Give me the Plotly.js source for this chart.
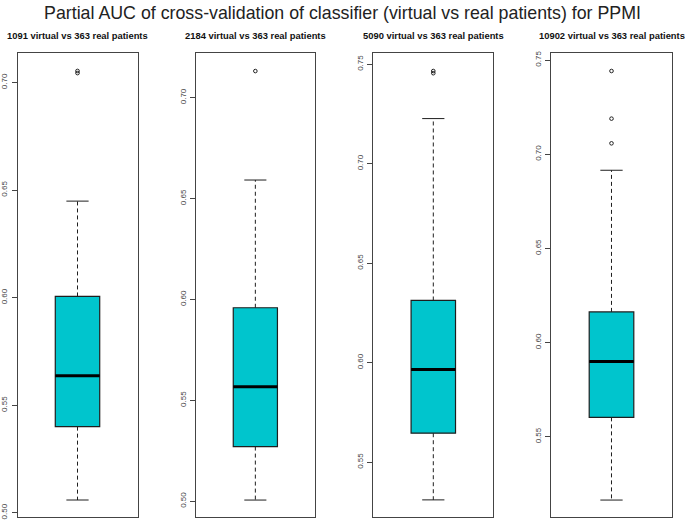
<!DOCTYPE html>
<html>
<head>
<meta charset="utf-8">
<script src="https://cdn.plot.ly/plotly-3.0.1.min.js"></script>
<style>html,body{margin:0;padding:0;background:#fff;}#chart{width:685px;height:522px;}</style>
</head>
<body>
<div id="chart"></div>
<script>
// ---- data ----
const panelTitles = [
  "1091 virtual vs 363 real patients",
  "2184 virtual vs 363 real patients",
  "5090 virtual vs 363 real patients",
  "10902 virtual vs 363 real patients"
];
const q1Vals      = [0.5401, 0.5271, 0.5646, 0.5603];
const medianVals  = [0.5637, 0.5568, 0.5966, 0.5899];
const q3Vals      = [0.6006, 0.5959, 0.6313, 0.6163];
const lowerWhisk  = [0.5060, 0.5006, 0.5311, 0.5164];
const upperWhisk  = [0.6449, 0.6592, 0.7227, 0.6915];
const outlierVals = [
  [0.7044, 0.7054],
  [0.7132],
  [0.7455, 0.7466],
  [0.7058, 0.7189, 0.7442]
];
const tickVals = [
  [0.50, 0.55, 0.60, 0.65, 0.70],
  [0.50, 0.55, 0.60, 0.65, 0.70],
  [0.55, 0.60, 0.65, 0.70, 0.75],
  [0.55, 0.60, 0.65, 0.70, 0.75]
];
const tickText = tickVals.map(a => a.map(v => v.toFixed(2)));
const mainTitle = "Partial AUC of cross-validation of classifier (virtual vs real patients) for PPMI";

// ---- layout config ----
const W = 685, H = 522;
const panelPx = [[17.5, 137.5], [195.7, 315.0], [373.3, 493.3], [551.3, 671.7]];
const yRanges = [[0.4981, 0.7136], [0.4922, 0.7220], [0.5225, 0.7555], [0.5074, 0.7536]];
const yDomain = [1 - 517 / H, 1 - 53.3 / H];
const boxX = 1, boxW = 0.4, capHalf = 0.1;
const fillCol = "#00C5CD", lineCol = "#1e1e1e", frameCol = "#444";

const traces = [];
const layout = {
  width: W, height: H, autosize: false,
  margin: {l: 0, r: 0, t: 0, b: 0, pad: 0},
  paper_bgcolor: "#fff", plot_bgcolor: "#fff",
  showlegend: false,
  font: {family: "Liberation Sans, Arial, sans-serif", color: "#222"},
  title: {
    text: mainTitle, x: 0.5, xanchor: "center", xref: "paper",
    y: 1 - 13 / H, yanchor: "middle", yref: "container",
    font: {family: "Liberation Sans, Arial, sans-serif", size: 17.8, color: "#222"}
  },
  annotations: []
};

for (let i = 0; i < 4; i++) {
  const n = i + 1;
  const xa = "x" + (n === 1 ? "" : n), ya = "y" + (n === 1 ? "" : n);
  const xk = "xaxis" + (n === 1 ? "" : n), yk = "yaxis" + (n === 1 ? "" : n);

  // box body (whiskers drawn separately, R style)
  traces.push({
    type: "box", x: [boxX], xaxis: xa, yaxis: ya,
    q1: [q1Vals[i]], median: [medianVals[i]], q3: [q3Vals[i]],
    lowerfence: [q1Vals[i]], upperfence: [q3Vals[i]],
    width: boxW, whiskerwidth: 0, boxpoints: false,
    fillcolor: fillCol, line: {color: lineCol, width: 1.2},
    hoverinfo: "skip"
  });
  // thick median
  traces.push({
    type: "scatter", mode: "lines", xaxis: xa, yaxis: ya,
    x: [boxX - boxW / 2, boxX + boxW / 2], y: [medianVals[i], medianVals[i]],
    line: {color: "#000", width: 3}, hoverinfo: "skip"
  });
  // dashed whiskers
  traces.push({
    type: "scatter", mode: "lines", xaxis: xa, yaxis: ya,
    x: [boxX, boxX, null, boxX, boxX],
    y: [q3Vals[i], upperWhisk[i], null, q1Vals[i], lowerWhisk[i]],
    line: {color: lineCol, width: 1, dash: "4px,3px"}, hoverinfo: "skip"
  });
  // staples
  traces.push({
    type: "scatter", mode: "lines", xaxis: xa, yaxis: ya,
    x: [boxX - capHalf, boxX + capHalf, null, boxX - capHalf, boxX + capHalf],
    y: [upperWhisk[i], upperWhisk[i], null, lowerWhisk[i], lowerWhisk[i]],
    line: {color: lineCol, width: 1}, hoverinfo: "skip"
  });
  // outliers
  traces.push({
    type: "scatter", mode: "markers", xaxis: xa, yaxis: ya,
    x: outlierVals[i].map(() => boxX), y: outlierVals[i],
    marker: {symbol: "circle-open", size: 3.6, color: "#222", line: {width: 1}},
    hoverinfo: "skip"
  });

  layout[xk] = {
    domain: [panelPx[i][0] / W, panelPx[i][1] / W],
    range: [0.46, 1.54], anchor: ya,
    showticklabels: false, ticks: "", showgrid: false, zeroline: false,
    showline: true, mirror: true, linecolor: frameCol, linewidth: 1
  };
  layout[yk] = {
    domain: yDomain, range: yRanges[i], anchor: xa,
    tickvals: tickVals[i], ticktext: tickText[i], tickangle: -90,
    ticks: "outside", ticklen: 5, tickcolor: frameCol, tickwidth: 1,
    ticklabelstandoff: 1,
    tickfont: {family: "Liberation Sans, Arial, sans-serif", size: 8, color: "#444"},
    showgrid: false, zeroline: false,
    showline: true, mirror: true, linecolor: frameCol, linewidth: 1
  };
  layout.annotations.push({
    text: "<b>" + panelTitles[i] + "</b>", xref: "paper", yref: "paper",
    x: (panelPx[i][0] + panelPx[i][1]) / 2 / W, y: 1 - 35 / H,
    xanchor: "center", yanchor: "middle", showarrow: false,
    font: {family: "Liberation Sans, Arial, sans-serif", size: 9.4, color: "#111"}
  });
}

Plotly.newPlot("chart", traces, layout, {staticPlot: true, displayModeBar: false});
</script>
</body>
</html>
